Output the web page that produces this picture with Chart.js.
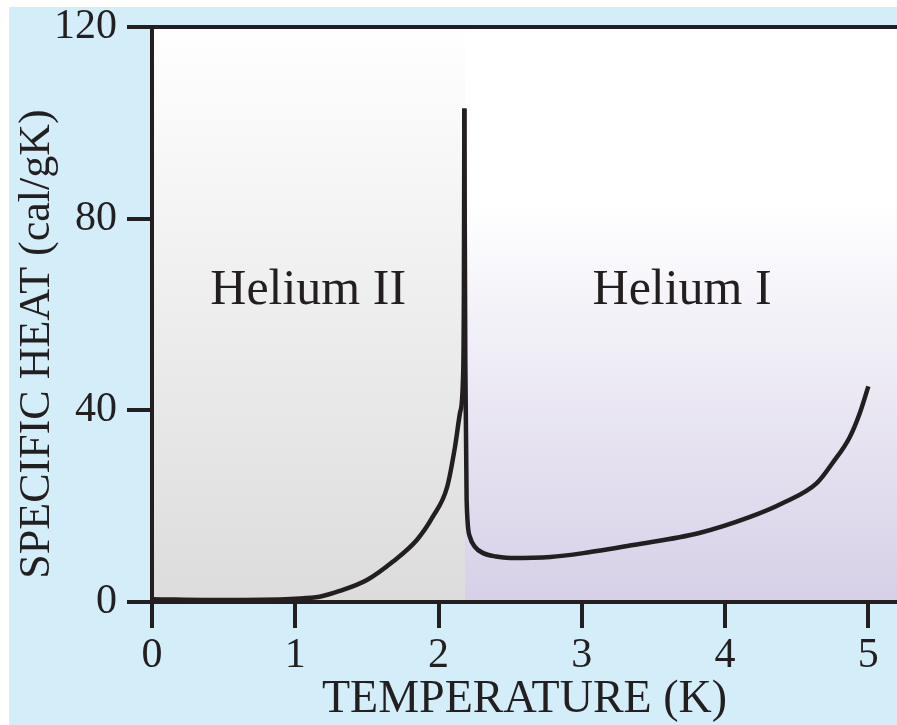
<!DOCTYPE html>
<html>
<head>
<meta charset="utf-8">
<script src="https://cdn.jsdelivr.net/npm/chart.js@4.4.1/dist/chart.umd.min.js"></script>
<style>
  html, body { margin: 0; padding: 0; background: #fff; }
  #wrap { width: 897px; height: 725px; }
</style>
</head>
<body>
<div id="wrap"><canvas id="heatChart" width="897" height="725"></canvas></div>
<script>
// specific heat of liquid helium
const heIITemp = [0, 0.5, 1.0, 1.17, 1.31, 1.5, 1.68, 1.85, 1.96, 2.06, 2.115, 2.15, 2.17, 2.177, 2.18];
const heIIHeat = [0.6, 0.4, 0.7, 1.1, 2.3, 4.6, 8.4, 13, 17.8, 24, 32.4, 39.5, 46, 65, 103];

const heITemp = [2.18, 2.187, 2.196, 2.219, 2.254, 2.312, 2.4, 2.5, 2.78, 3.01, 3.36, 3.82, 4.17, 4.4, 4.64, 4.75, 4.87, 4.94, 5.0];
const heIHeat = [103, 50, 21.3, 13.6, 11.5, 10.2, 9.5, 9.2, 9.4, 10.2, 11.9, 14.4, 17.7, 20.6, 24.8, 29, 34.4, 39.4, 45];

const lambdaPoint = 2.185;
const regionNames = ['Helium II', 'Helium I'];
const regionLabelX = [1.09, 3.70];
const regionLabelY = 65;

const ink = '#231f20';
const serif = "'Liberation Serif', 'Times New Roman', serif";

function toPoints(xs, ys) {
  return xs.map((x, i) => ({ x: x, y: ys[i] }));
}

const backdrop = {
  id: 'backdrop',
  beforeDraw(chart) {
    const ctx = chart.ctx;
    const area = chart.chartArea;
    const xs = chart.scales.x;
    ctx.save();
    ctx.fillStyle = '#d4eef9';
    ctx.fillRect(9, 7, chart.width - 9, chart.height - 7);

    const split = xs.getPixelForValue(lambdaPoint);
    const g1 = ctx.createLinearGradient(0, area.top, 0, area.bottom);
    g1.addColorStop(0, '#ffffff');
    g1.addColorStop(1, '#dcdcdc');
    ctx.fillStyle = g1;
    ctx.fillRect(area.left, area.top, split - area.left, area.bottom - area.top);

    const g2 = ctx.createLinearGradient(0, area.top, 0, area.bottom);
    g2.addColorStop(0, '#ffffff');
    g2.addColorStop(0.3, '#ffffff');
    g2.addColorStop(1, '#d6d0e7');
    ctx.fillStyle = g2;
    ctx.fillRect(split, area.top, area.right - split, area.bottom - area.top);
    ctx.restore();
  },
  afterDraw(chart) {
    const ctx = chart.ctx;
    const area = chart.chartArea;
    const xs = chart.scales.x;
    const ys = chart.scales.y;
    ctx.save();
    // top frame line
    ctx.strokeStyle = ink;
    ctx.lineWidth = 4;
    ctx.beginPath();
    ctx.moveTo(area.left, area.top);
    ctx.lineTo(chart.width, area.top);
    ctx.stroke();

    // region names
    ctx.fillStyle = ink;
    ctx.font = '50px ' + serif;
    ctx.textAlign = 'center';
    ctx.textBaseline = 'middle';
    regionNames.forEach((name, i) => {
      ctx.fillText(name, xs.getPixelForValue(regionLabelX[i]), ys.getPixelForValue(regionLabelY));
    });

    // y axis title
    ctx.font = '44px ' + serif;
    ctx.translate(37, 344);
    ctx.rotate(-Math.PI / 2);
    ctx.fillText('SPECIFIC HEAT (cal/gK)', 0, 0);
    ctx.restore();
  }
};

new Chart(document.getElementById('heatChart'), {
  type: 'line',
  data: {
    datasets: [
      {
        label: regionNames[0],
        data: toPoints(heIITemp, heIIHeat),
        borderColor: ink,
        borderWidth: 4.5,
        pointRadius: 0,
        cubicInterpolationMode: 'monotone',
        fill: false
      },
      {
        label: regionNames[1],
        data: toPoints(heITemp, heIHeat),
        borderColor: ink,
        borderWidth: 4.5,
        pointRadius: 0,
        cubicInterpolationMode: 'monotone',
        fill: false
      }
    ]
  },
  options: {
    responsive: false,
    animation: false,
    layout: { padding: { top: 27, left: 0, right: 0, bottom: 0 } },
    plugins: {
      legend: { display: false },
      tooltip: { enabled: false }
    },
    scales: {
      x: {
        type: 'linear',
        min: 0,
        max: 5.2,
        afterFit(scale) { scale.height = 123; },
        border: { display: true, width: 4, color: ink },
        grid: { drawOnChartArea: false, drawTicks: true, tickLength: 26, lineWidth: 4, color: ink },
        ticks: {
          stepSize: 1,
          includeBounds: false,
          padding: 3,
          color: ink,
          font: { family: serif, size: 42 }
        },
        title: {
          display: true,
          text: 'TEMPERATURE (K)',
          color: ink,
          font: { family: serif, size: 46, lineHeight: 1 },
          padding: { top: 0, bottom: 2 }
        }
      },
      y: {
        min: 0,
        max: 120,
        afterFit(scale) { scale.width = 152; },
        border: { display: true, width: 4, color: ink },
        grid: { drawOnChartArea: false, drawTicks: true, tickLength: 25, lineWidth: 4, color: ink },
        ticks: {
          stepSize: 40,
          padding: 10,
          color: ink,
          font: { family: serif, size: 42, lineHeight: 0.8 }
        }
      }
    }
  },
  plugins: [backdrop]
});
</script>
</body>
</html>
